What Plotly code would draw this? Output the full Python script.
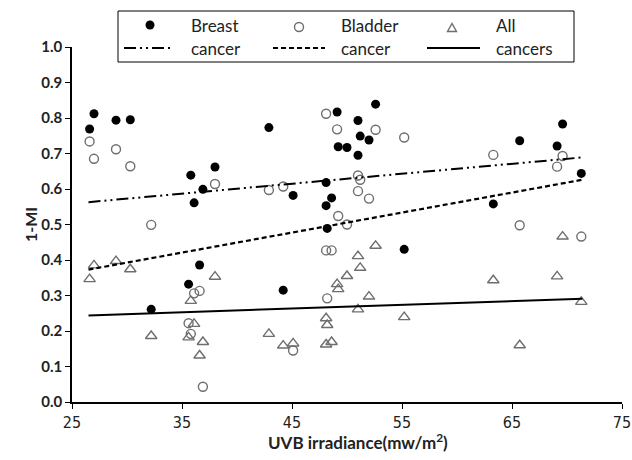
import plotly.graph_objects as go

# ---- data ----
uvb = [26.6, 27.0, 29.0, 30.3, 32.2, 35.6, 35.8, 36.1, 36.6, 36.9, 38.0, 42.9,
       44.2, 45.1, 48.1, 48.1, 48.2, 48.6, 49.1, 49.2, 50.0, 51.0, 51.0, 51.2,
       52.0, 52.6, 55.2, 63.3, 65.7, 69.1, 69.6, 71.3]
breast = [0.769, 0.812, 0.794, 0.795, 0.261, 0.332, 0.639, 0.561, 0.386, 0.599, 0.662, 0.773,
          0.315, 0.582, 0.618, 0.553, 0.489, 0.575, 0.817, 0.719, 0.717, 0.793, 0.695, 0.749,
          0.738, 0.839, 0.430, 0.558, 0.736, 0.721, 0.783, 0.644]
bladder = [0.734, 0.685, 0.712, 0.664, 0.499, 0.222, 0.192, 0.306, 0.313, 0.043, 0.614, 0.597,
           0.607, 0.145, 0.812, 0.427, 0.292, 0.427, 0.768, 0.524, 0.500, 0.638, 0.594, 0.626,
           0.573, 0.767, 0.745, 0.696, 0.498, 0.663, 0.693, 0.466]
all_cancers = [0.346, 0.385, 0.397, 0.374, 0.186, 0.182, 0.285, 0.220, 0.131, 0.169, 0.353, 0.192,
               0.159, 0.165, 0.236, 0.162, 0.217, 0.169, 0.332, 0.318, 0.355, 0.411, 0.261, 0.378,
               0.297, 0.440, 0.239, 0.343, 0.160, 0.354, 0.466, 0.282]

trend_x = [26.5, 71.4]
trend_breast = [0.563, 0.689]
trend_bladder = [0.373, 0.626]
trend_all = [0.244, 0.291]

x_ticks = [25, 35, 45, 55, 65, 75]
y_ticks = [0.0, 0.1, 0.2, 0.3, 0.4, 0.5, 0.6, 0.7, 0.8, 0.9, 1.0]

legend_names = ["Breast", "Bladder", "All"]
legend_sub = ["cancer", "cancer", "cancers"]

DOTDASH = "12px,4px,2px,4px,2px,4px"
DASH = "5px,3px"
GRAY = "#6e6e6e"
TXT = "#222222"

# plot-area geometry in pixels (margins below)
W, H = 632, 460
L, R, T, B = 72, 10, 47, 58
PW, PH = W - L - R, H - T - B


def px(x):
    return (x - L) / PW


def py(y):
    return (H - B - y) / PH


fig = go.Figure()

# data points
fig.add_trace(go.Scatter(x=uvb, y=breast, mode="markers",
                         marker=dict(symbol="circle", size=9, color="black"),
                         showlegend=False))
fig.add_trace(go.Scatter(x=uvb, y=bladder, mode="markers",
                         marker=dict(symbol="circle-open", size=9, color=GRAY,
                                     line=dict(width=1.4, color=GRAY)),
                         showlegend=False))
fig.add_trace(go.Scatter(x=uvb, y=all_cancers, mode="markers",
                         marker=dict(symbol="triangle-up-open", size=10, color=GRAY,
                                     line=dict(width=1.4, color=GRAY)),
                         showlegend=False))

# trend lines
fig.add_trace(go.Scatter(x=trend_x, y=trend_breast, mode="lines",
                         line=dict(color="black", width=2, dash=DOTDASH), showlegend=False))
fig.add_trace(go.Scatter(x=trend_x, y=trend_bladder, mode="lines",
                         line=dict(color="black", width=2.2, dash=DASH), showlegend=False))
fig.add_trace(go.Scatter(x=trend_x, y=trend_all, mode="lines",
                         line=dict(color="black", width=2), showlegend=False))

# ---- custom legend (paper coordinates) ----
shapes = [dict(type="rect", xref="paper", yref="paper",
               x0=px(118), x1=px(574), y0=py(62), y1=py(11),
               line=dict(color="black", width=1), fillcolor="white", layer="above")]

leg_line_x = [(124, 174), (273, 325), (427, 480)]
leg_dash = [DOTDASH, DASH, "solid"]
for (x0, x1), d in zip(leg_line_x, leg_dash):
    shapes.append(dict(type="line", xref="paper", yref="paper",
                       x0=px(x0), x1=px(x1), y0=py(48), y1=py(48),
                       line=dict(color="black", width=2, dash=d), layer="above"))

r = 4.5
cx, cy = 150, 25
shapes.append(dict(type="circle", xref="paper", yref="paper",
                   x0=px(cx - r), x1=px(cx + r), y0=py(cy + r), y1=py(cy - r),
                   fillcolor="black", line=dict(color="black", width=0), layer="above"))
cx, cy = 299, 27
shapes.append(dict(type="circle", xref="paper", yref="paper",
                   x0=px(cx - r), x1=px(cx + r), y0=py(cy + r), y1=py(cy - r),
                   fillcolor="white", line=dict(color=GRAY, width=1.4), layer="above"))
cx, cy = 452, 28
tri = "M {:.5f},{:.5f} L {:.5f},{:.5f} L {:.5f},{:.5f} Z".format(
    px(cx), py(cy - 4.5), px(cx - 4.5), py(cy + 3.5), px(cx + 4.5), py(cy + 3.5))
shapes.append(dict(type="path", xref="paper", yref="paper", path=tri,
                   fillcolor="white", line=dict(color=GRAY, width=1.4), layer="above"))

annotations = []
leg_text_x = [189, 339, 494]
for tx, n, s in zip(leg_text_x, legend_names, legend_sub):
    for yy, t in ((25, n), (48, s)):
        annotations.append(dict(xref="paper", yref="paper", x=px(tx), y=py(yy), text=t,
                                showarrow=False, xanchor="left", yanchor="middle",
                                font=dict(family="Lato, sans-serif", size=17, color=TXT)))

annotations.append(dict(xref="paper", yref="paper", x=px(358), y=py(441),
                        text="UVB irradiance(mw/m<sup>2</sup>)", showarrow=False,
                        xanchor="center", yanchor="middle",
                        font=dict(family="Lato, sans-serif", size=17, color=TXT, weight="bold")))
annotations.append(dict(xref="paper", yref="paper", x=px(30), y=py(225), text="1-MI",
                        showarrow=False, textangle=-90, xanchor="center", yanchor="middle",
                        font=dict(family="Lato, sans-serif", size=16, color=TXT, weight="bold")))

fig.update_layout(
    width=W, height=H,
    margin=dict(l=L, r=R, t=T, b=B, autoexpand=False),
    plot_bgcolor="white", paper_bgcolor="white",
    showlegend=False,
    xaxis=dict(range=[25, 75], tickvals=x_ticks, ticktext=[str(v) for v in x_ticks],
               showline=True, linecolor="black", linewidth=1.5, ticks="outside",
               ticklen=5, tickwidth=1.3, tickcolor="black", showgrid=False, zeroline=False,
               automargin=False, ticklabeloverflow="allow",
               tickfont=dict(family="Liberation Sans Narrow, DejaVu Sans Condensed, Lato, sans-serif",
                             size=16, color=TXT)),
    yaxis=dict(range=[0, 1], tickvals=y_ticks, ticktext=[f"{v:.1f}" for v in y_ticks],
               showline=True, linecolor="black", linewidth=1.5, ticks="outside",
               ticklen=5, tickwidth=1.3, tickcolor="black", showgrid=False, zeroline=False,
               automargin=False, ticklabeloverflow="allow",
               tickfont=dict(family="Lato, sans-serif", size=15, color=TXT, weight="bold")),
    shapes=shapes,
    annotations=annotations,
)

fig.write_html("out.html", config={"displayModeBar": False},
               post_script="document.body.style.margin='0';document.body.style.overflow='hidden';")
